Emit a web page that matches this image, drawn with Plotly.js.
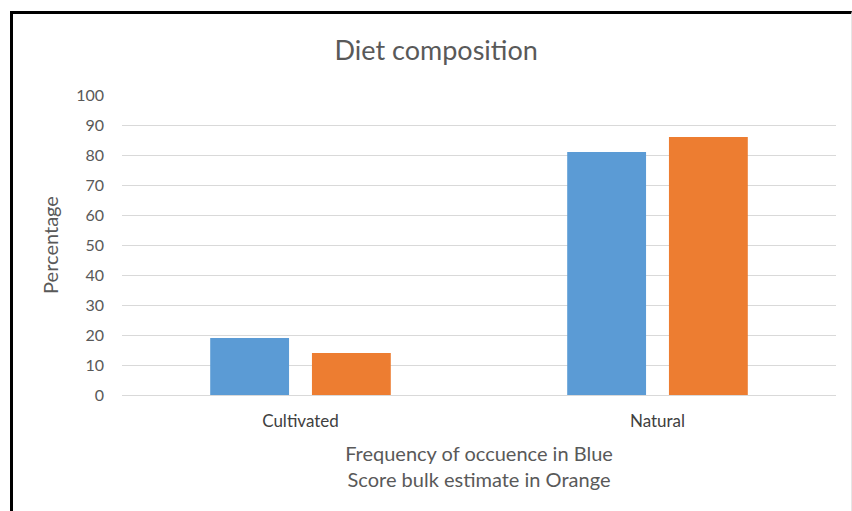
<!DOCTYPE html>
<html>
<head>
<meta charset="utf-8">
<script src="https://cdn.plot.ly/plotly-3.0.1.min.js"></script>
<style>
  html, body { margin:0; padding:0; background:#fff; }
  #chart { width:852px; height:511px; }
  #frame { position:absolute; left:10px; top:11px; width:838px; height:520px;
           border-left:3px solid #000; border-top:3px solid #000; border-right:1px solid #e6e6e6;
           pointer-events:none; }
</style>
</head>
<body>
<div id="chart"></div>
<div id="frame"></div>
<script>
const categories = ["Cultivated", "Natural"];
const frequencyBlue = [19, 81];
const bulkOrange = [14, 86];
const yTicks = [0, 10, 20, 30, 40, 50, 60, 70, 80, 90, 100];

const fontFam = "Lato, 'Open Sans', sans-serif";

const traces = [
  { type: "bar", x: categories, y: frequencyBlue, name: "Frequency of occurence",
    marker: { color: "#5b9bd5" }, hoverinfo: "x+y" },
  { type: "bar", x: categories, y: bulkOrange, name: "Score bulk estimate",
    marker: { color: "#ed7d31" }, hoverinfo: "x+y" }
];

const layout = {
  width: 852, height: 511,
  margin: { l: 122, r: 16, t: 95, b: 116 },
  paper_bgcolor: "#ffffff", plot_bgcolor: "#ffffff",
  showlegend: false,
  barmode: "group",
  bargap: 0.43,
  bargroupgap: 0.225,
  font: { family: fontFam, color: "#595959" },
  title: { text: "Diet composition", x: 0.512, xanchor: "center", xref: "container",
           y: 0.902, yanchor: "middle", yref: "container",
           font: { size: 27, color: "#595959", family: fontFam } },
  xaxis: {
    type: "category",
    showgrid: false, zeroline: false, showline: false, ticks: "",
    ticklabelstandoff: 14,
    tickfont: { size: 17, color: "#404040", family: fontFam },
    title: { text: "Frequency of occuence in Blue<br>Score bulk estimate in Orange",
             font: { size: 20, color: "#595959", family: fontFam }, standoff: 16 }
  },
  yaxis: {
    range: [0, 100],
    tickvals: yTicks,
    ticktext: yTicks.map(String),
    showgrid: true, gridcolor: "#d9d9d9", gridwidth: 1,
    zeroline: true, zerolinecolor: "#d9d9d9", zerolinewidth: 1,
    showline: false, ticks: "",
    ticklabelstandoff: 17,
    tickfont: { size: 16, color: "#595959", family: fontFam },
    title: { text: "Percentage", font: { size: 20, color: "#595959", family: fontFam }, standoff: 12 }
  }
};

Plotly.newPlot("chart", traces, layout, { displayModeBar: false, staticPlot: true });
</script>
</body>
</html>
